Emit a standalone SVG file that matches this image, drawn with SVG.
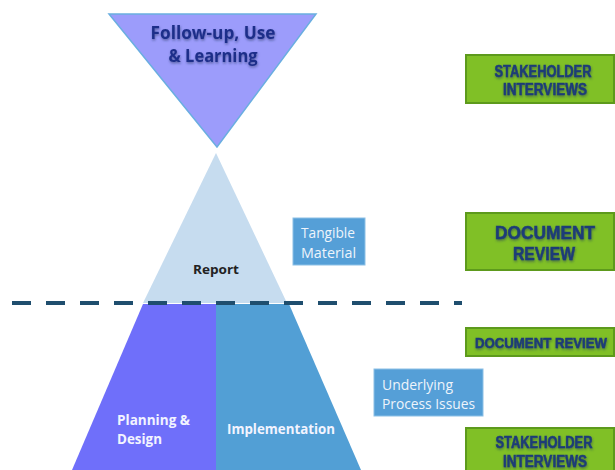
<svg xmlns="http://www.w3.org/2000/svg" width="615" height="470" viewBox="0 0 615 470">
<defs>
<filter id="sh" x="-10%" y="-30%" width="120%" height="160%">
<feDropShadow dx="0.5" dy="1.5" stdDeviation="1" flood-color="#1a2f5a" flood-opacity="0.55"/>
</filter>
<style>
.green{fill:#80c026;stroke:#5d9a1c;stroke-width:2}
.gtxt{font-family:"Liberation Sans",Arial,sans-serif;font-weight:bold;fill:#1d3c78;stroke:#1d3c78;stroke-width:0.5;text-anchor:middle;filter:url(#sh)}
.bluebox{fill:#559fd7;stroke:#8cc0e6;stroke-width:1}
.btxt{font-family:"Open Sans","Liberation Sans",sans-serif;font-size:14px;fill:#eef4fb}
.wtxt{font-family:"Open Sans","Liberation Sans",sans-serif;font-weight:bold;font-size:14px;fill:#f2f4ff}
.ftxt{font-family:"Open Sans","Liberation Sans",sans-serif;font-weight:bold;font-size:18px;fill:#1f2f8a;text-anchor:middle;filter:url(#sh)}
</style>
</defs>
<rect width="615" height="470" fill="#ffffff"/>

<g id="followup">
<polygon points="109,14 316,14 217,147" fill="#9c9cfb" stroke="#6aaee0" stroke-width="1.5"/>
<text x="213" y="39" class="ftxt" textLength="125" lengthAdjust="spacingAndGlyphs">Follow-up, Use</text>
<text x="213" y="62" class="ftxt" textLength="89" lengthAdjust="spacingAndGlyphs">&amp; Learning</text>
</g>

<g id="report">
<polygon points="216,153 287,303 143,303" fill="#c6dcef"/>
<text x="216" y="274" text-anchor="middle" style="font-family:'Open Sans','Liberation Sans',sans-serif;font-weight:bold;font-size:12px;fill:#222" textLength="46" lengthAdjust="spacingAndGlyphs">Report</text>
</g>

<g id="planning">
<polygon points="143,304 216,304 216,470 72,470" fill="#6f6ffa"/>
<text class="wtxt" x="117" y="425" textLength="73" lengthAdjust="spacingAndGlyphs">Planning &amp;</text>
<text class="wtxt" x="117" y="444" textLength="45" lengthAdjust="spacingAndGlyphs">Design</text>
</g>

<g id="implementation">
<polygon points="216,304 289,304 361,470 216,470" fill="#529fd5"/>
<text class="wtxt" x="227" y="434" textLength="108" lengthAdjust="spacingAndGlyphs">Implementation</text>
</g>

<g id="connectors">
<line x1="12" y1="303" x2="462" y2="303" stroke="#1f4e6e" stroke-width="4" stroke-dasharray="19,15"/>
</g>

<g id="tangible">
<rect class="bluebox" x="293" y="218" width="72" height="47"/>
<text class="btxt" x="301" y="238" textLength="54" lengthAdjust="spacingAndGlyphs">Tangible</text>
<text class="btxt" x="301" y="258" textLength="55" lengthAdjust="spacingAndGlyphs">Material</text>
</g>

<g id="underlying">
<rect class="bluebox" x="374" y="369" width="109" height="47"/>
<text class="btxt" x="382" y="390" textLength="71" lengthAdjust="spacingAndGlyphs">Underlying</text>
<text class="btxt" x="382" y="409" textLength="93" lengthAdjust="spacingAndGlyphs">Process Issues</text>
</g>

<g id="stakeholder1">
<rect class="green" x="466" y="55" width="148" height="48"/>
<text class="gtxt" x="543" y="77" font-size="16" textLength="97" lengthAdjust="spacingAndGlyphs">STAKEHOLDER</text>
<text class="gtxt" x="545" y="95" font-size="16" textLength="84" lengthAdjust="spacingAndGlyphs">INTERVIEWS</text>
</g>

<g id="docreview1">
<rect class="green" x="466" y="213" width="148" height="57"/>
<text class="gtxt" x="545" y="239" font-size="19" textLength="100" lengthAdjust="spacingAndGlyphs">DOCUMENT</text>
<text class="gtxt" x="544" y="260" font-size="19" textLength="62" lengthAdjust="spacingAndGlyphs">REVIEW</text>
</g>

<g id="docreview2">
<rect class="green" x="466" y="328" width="148" height="28"/>
<text class="gtxt" x="541" y="348" font-size="14.5" textLength="132" lengthAdjust="spacingAndGlyphs">DOCUMENT REVIEW</text>
</g>

<g id="stakeholder2">
<rect class="green" x="466" y="428" width="148" height="48"/>
<text class="gtxt" x="544" y="448" font-size="16" textLength="97" lengthAdjust="spacingAndGlyphs">STAKEHOLDER</text>
<text class="gtxt" x="545" y="467" font-size="16" textLength="84" lengthAdjust="spacingAndGlyphs">INTERVIEWS</text>
</g>
</svg>
